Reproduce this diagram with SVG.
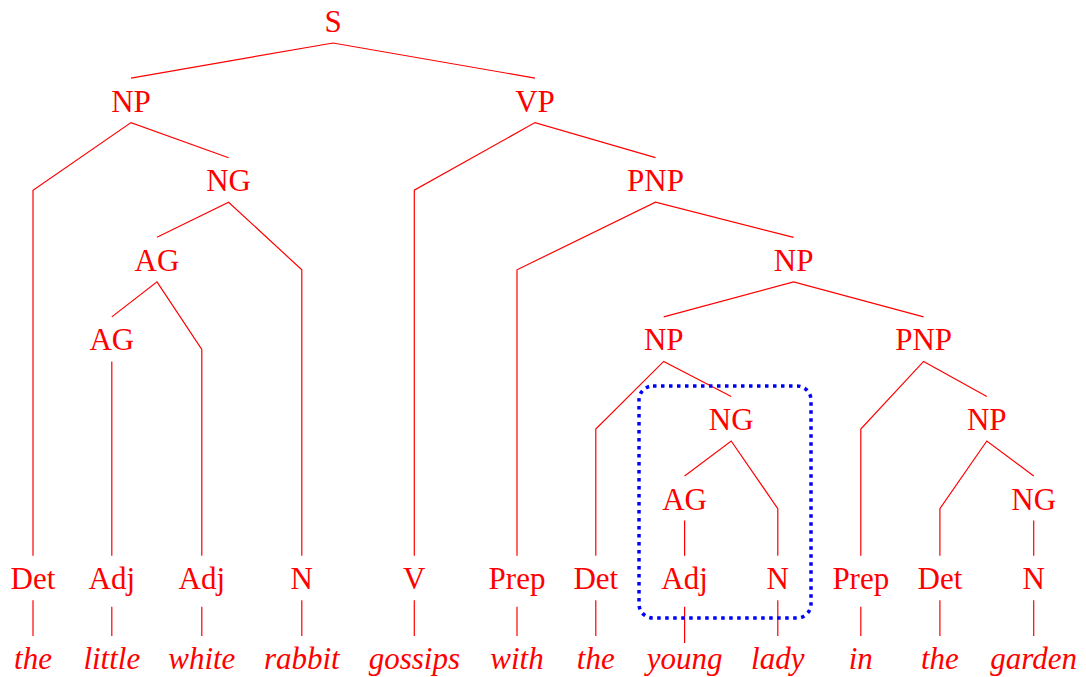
<svg xmlns="http://www.w3.org/2000/svg" width="1086" height="677" viewBox="0 0 1086 677">
<style>
.l{font-family:"Liberation Serif",Tinos,"Times New Roman",Times,"Noto Serif","DejaVu Serif",serif;font-size:31px;fill:#ff0000;text-anchor:middle}
.w{font-style:italic}
.e{stroke:#ff0000;stroke-width:1.2;fill:none}
.box{stroke:#0000ff;stroke-width:3.5;fill:none;stroke-dasharray:3.5 4.5}
</style>
<rect width="1086" height="677" fill="#ffffff"/>
<g id="connectors" class="e">
<polyline points="131,78.1 333,43 535,78.1"/>
<polyline points="33,555.7 33,190.2 131,122.6 228.6,157.7"/>
<polyline points="414.3,555.7 414.3,190.2 535,122.6 655.5,157.7"/>
<polyline points="157,237.3 228.6,202.2 301.8,269.8 301.8,555.7"/>
<polyline points="517,555.7 517,269.8 655.5,202.2 793.6,237.3"/>
<polyline points="111.8,316.9 157,281.8 201.8,349.4 201.8,555.7"/>
<polyline points="663.7,316.9 793.6,281.8 923.6,316.9"/>
<line x1="111.8" y1="361.4" x2="111.8" y2="555.7"/>
<polyline points="595.8,555.7 595.8,429 663.7,361.4 731.2,396.5"/>
<polyline points="860.8,555.7 860.8,429 923.6,361.4 986.8,396.5"/>
<polyline points="684.6,476.1 731.2,441 777.8,508.6 777.8,555.7"/>
<polyline points="939.9,555.7 939.9,508.6 986.8,441 1033.7,476.1"/>
<line x1="684.6" y1="520.6" x2="684.6" y2="555.7"/>
<line x1="1033.7" y1="520.6" x2="1033.7" y2="555.7"/>
<line x1="33" y1="600.2" x2="33" y2="636"/>
<line x1="111.8" y1="606.7" x2="111.8" y2="636"/>
<line x1="201.8" y1="606.7" x2="201.8" y2="636"/>
<line x1="301.8" y1="600.2" x2="301.8" y2="636"/>
<line x1="414.3" y1="600.2" x2="414.3" y2="636"/>
<line x1="517" y1="606.7" x2="517" y2="636"/>
<line x1="595.8" y1="600.2" x2="595.8" y2="636"/>
<line x1="684.6" y1="606.7" x2="684.6" y2="643"/>
<line x1="777.8" y1="600.2" x2="777.8" y2="636"/>
<line x1="860.8" y1="606.7" x2="860.8" y2="636"/>
<line x1="939.9" y1="600.2" x2="939.9" y2="636"/>
<line x1="1033.7" y1="600.2" x2="1033.7" y2="636"/>
</g>
<rect id="highlight" class="box" x="639" y="386" width="172" height="232" rx="14" ry="14"/>
<g id="n-S"><text class="l" x="333" y="32">S</text></g>
<g id="n-NP1"><text class="l" x="131" y="111.6">NP</text></g>
<g id="n-VP"><text class="l" x="535" y="111.6">VP</text></g>
<g id="n-NG1"><text class="l" x="228.6" y="191.2">NG</text></g>
<g id="n-PNP1"><text class="l" x="655.5" y="191.2">PNP</text></g>
<g id="n-AG1"><text class="l" x="157" y="270.8">AG</text></g>
<g id="n-NP2"><text class="l" x="793.6" y="270.8">NP</text></g>
<g id="n-AG2"><text class="l" x="111.8" y="350.4">AG</text></g>
<g id="n-NP3"><text class="l" x="663.7" y="350.4">NP</text></g>
<g id="n-PNP2"><text class="l" x="923.6" y="350.4">PNP</text></g>
<g id="n-NG2"><text class="l" x="731.2" y="430">NG</text></g>
<g id="n-NP4"><text class="l" x="986.8" y="430">NP</text></g>
<g id="n-AG3"><text class="l" x="684.6" y="509.6">AG</text></g>
<g id="n-NG3"><text class="l" x="1033.7" y="509.6">NG</text></g>
<g id="n-Det1"><text class="l" x="33" y="589.2">Det</text></g>
<g id="n-Adj1"><text class="l" x="111.8" y="589.2">Adj</text></g>
<g id="n-Adj2"><text class="l" x="201.8" y="589.2">Adj</text></g>
<g id="n-N1"><text class="l" x="301.8" y="589.2">N</text></g>
<g id="n-V"><text class="l" x="414.3" y="589.2">V</text></g>
<g id="n-Prep1"><text class="l" x="517" y="589.2">Prep</text></g>
<g id="n-Det2"><text class="l" x="595.8" y="589.2">Det</text></g>
<g id="n-Adj3"><text class="l" x="684.6" y="589.2">Adj</text></g>
<g id="n-N2"><text class="l" x="777.8" y="589.2">N</text></g>
<g id="n-Prep2"><text class="l" x="860.8" y="589.2">Prep</text></g>
<g id="n-Det3"><text class="l" x="939.9" y="589.2">Det</text></g>
<g id="n-N3"><text class="l" x="1033.7" y="589.2">N</text></g>
<g id="w-the1"><text class="l w" x="33" y="668.8">the</text></g>
<g id="w-little"><text class="l w" x="111.8" y="668.8">little</text></g>
<g id="w-white"><text class="l w" x="201.8" y="668.8">white</text></g>
<g id="w-rabbit"><text class="l w" x="301.8" y="668.8">rabbit</text></g>
<g id="w-gossips"><text class="l w" x="414.3" y="668.8">gossips</text></g>
<g id="w-with"><text class="l w" x="517" y="668.8">with</text></g>
<g id="w-the2"><text class="l w" x="595.8" y="668.8">the</text></g>
<g id="w-young"><text class="l w" x="684.6" y="668.8">young</text></g>
<g id="w-lady"><text class="l w" x="777.8" y="668.8">lady</text></g>
<g id="w-in"><text class="l w" x="860.8" y="668.8">in</text></g>
<g id="w-the3"><text class="l w" x="939.9" y="668.8">the</text></g>
<g id="w-garden"><text class="l w" x="1033.7" y="668.8">garden</text></g>
</svg>
